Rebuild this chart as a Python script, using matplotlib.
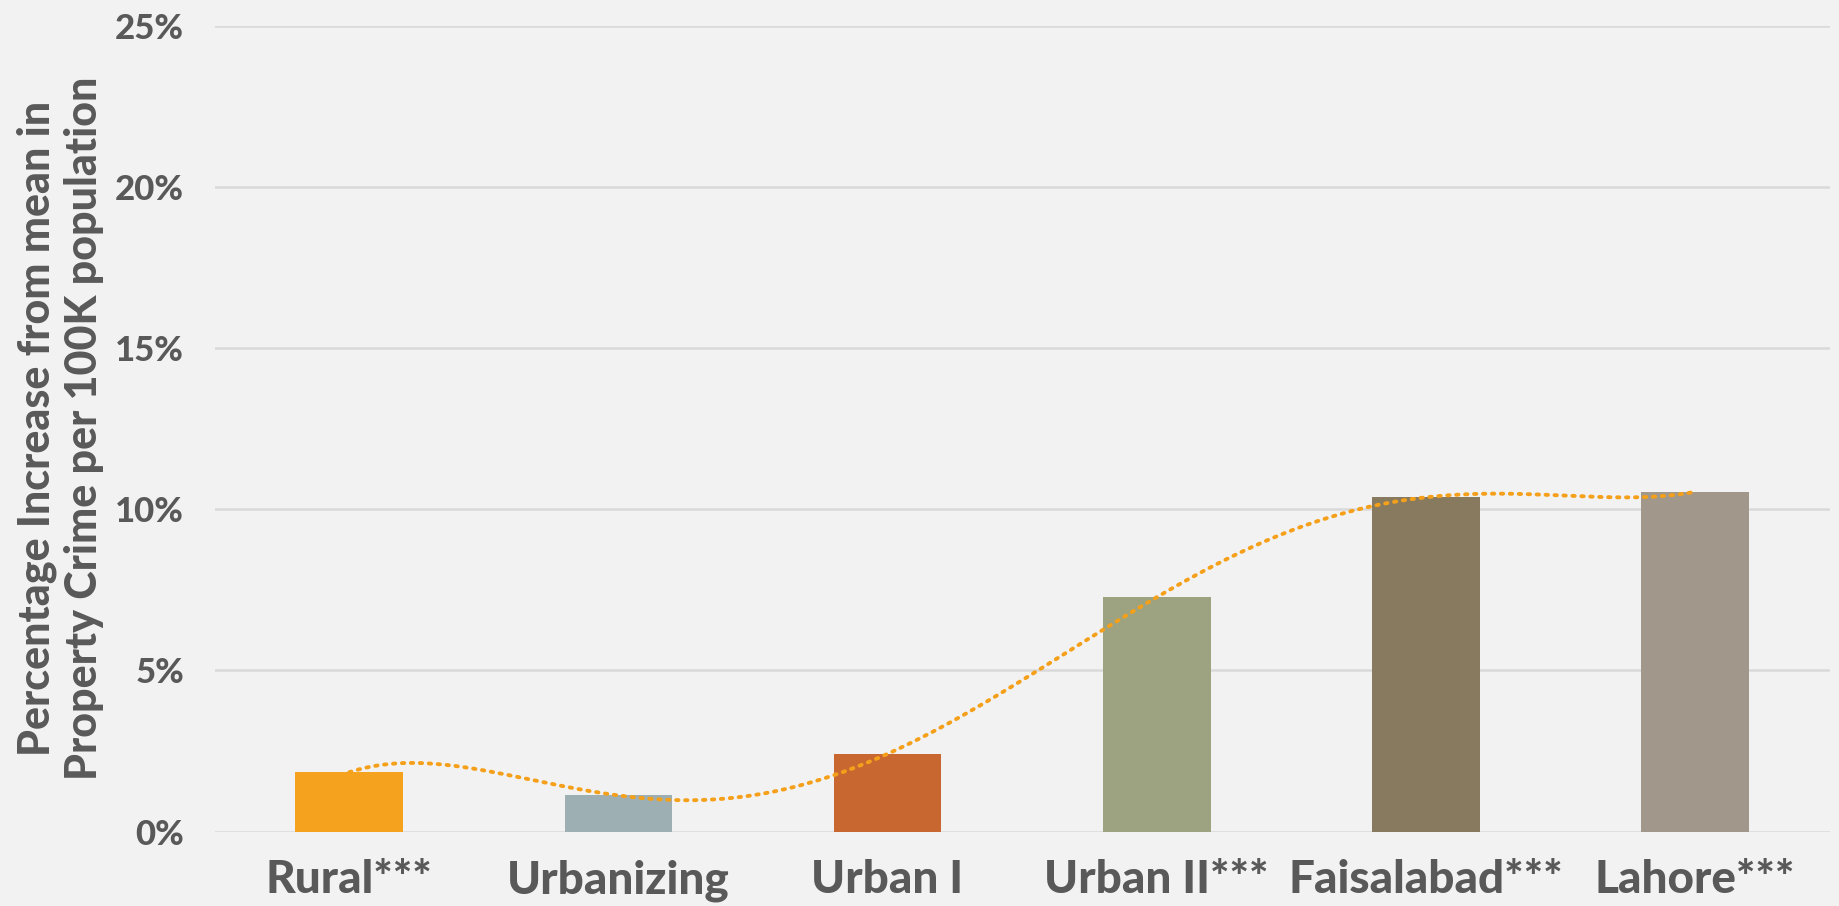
import numpy as np
import matplotlib
matplotlib.use("Agg")
import matplotlib.pyplot as plt
from matplotlib.ticker import FuncFormatter

categories = ["Rural***", "Urbanizing", "Urban I", "Urban II***", "Faisalabad***", "Lahore***"]
values = [1.84, 1.12, 2.41, 7.27, 10.37, 10.54]
bar_colors = ["#F5A31E", "#9DAFB3", "#C96731", "#9DA380", "#877A5E", "#A1978A"]
y_ticks = [0, 5, 10, 15, 20, 25]
y_label = "Percentage Increase from mean in\nProperty Crime per 100K population"

plt.rcParams['font.family'] = ['Lato', 'DejaVu Sans']
text_color = "#595959"
bg = "#F2F2F2"
W = "black"

fig = plt.figure(figsize=(18.39, 9.06), dpi=100, facecolor=bg)
ax = fig.add_axes([0.1167, 0.0822, 0.9949 - 0.1167, 0.9715 - 0.0822], facecolor=bg)

x = np.arange(len(categories))
ax.bar(x, values, width=0.40, color=bar_colors, zorder=2)

# polynomial trendline (order 5) through the data
coef = np.polyfit(x, values, 5)
xs = np.linspace(x[0], x[-1], 400)
ax.plot(xs, np.polyval(coef, xs), linestyle=(0, (0.6, 1.7)), color="#F5A01A",
        linewidth=2.8, dash_capstyle="round", zorder=3)

ax.set_xlim(-0.5, len(categories) - 0.5)
ax.set_ylim(0, 25)
ax.set_yticks(y_ticks)
ax.yaxis.set_major_formatter(FuncFormatter(lambda v, p: f"{int(v)}%"))
ax.set_xticks(x)
ax.set_xticklabels(categories)
ax.grid(axis="y", color="#D9D9D9", linewidth=1.8, zorder=0)
ax.set_axisbelow(True)
for s in ax.spines.values():
    s.set_visible(False)
ax.tick_params(axis="both", length=0, colors=text_color)
ax.tick_params(axis="y", pad=22, labelsize=25)
ax.tick_params(axis="x", pad=20, labelsize=33)
for lab in ax.get_xticklabels() + ax.get_yticklabels():
    lab.set_fontweight(W)
    lab.set_color(text_color)

ax.set_ylabel(y_label, fontsize=31, fontweight=W, color=text_color,
              labelpad=8, linespacing=1.2)

fig.savefig("out.png", dpi=100, facecolor=bg)
